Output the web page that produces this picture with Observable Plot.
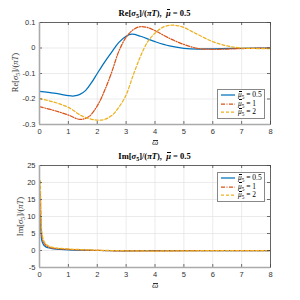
<!DOCTYPE html>
<html><head><meta charset="utf-8">
<script src="https://cdn.jsdelivr.net/npm/d3@7"></script>
<script src="https://cdn.jsdelivr.net/npm/@observablehq/plot@0.6"></script>
<style>
body{margin:0;background:#fff}
#c{position:relative;width:300px;height:300px;overflow:hidden;font-family:"Liberation Serif",serif}
.ttl{position:absolute;width:231px;left:39px;text-align:center;font-weight:bold;font-size:8.5px;color:#000;white-space:nowrap}
.yl{position:absolute;transform:rotate(-90deg);transform-origin:center;font-size:8.5px;color:#333;white-space:nowrap;width:80px;text-align:center}
.xl{position:absolute;left:152px;font-size:9px;color:#333}
.leg{position:absolute;left:217px;width:46px;height:28px;border:1px solid #888;background:#fff;font-size:7.5px}
.row{position:absolute;left:2px;height:8px;display:flex;align-items:center}
.row svg{display:block}
.row span{margin-left:1px;white-space:nowrap}
sub{font-size:70%;vertical-align:-2px}
.bar{position:relative;display:inline-block;font-style:italic}
.bar::before{content:"";position:absolute;left:20%;right:5%;top:0.12em;border-top:0.7px solid currentColor}
.xl .bar::before{top:0.28em}
</style>
</head><body>
<div id="c"></div>
<script>
// ---------- data ----------
const reOmegaBlue = [0, 0.5, 0.75, 1, 1.2, 1.4, 1.6, 1.8, 2, 2.25, 2.5, 2.75, 3, 3.2, 3.5, 4, 4.5, 5, 5.5, 6, 7, 8];
const reBlue      = [-0.170, -0.177, -0.182, -0.187, -0.188, -0.182, -0.166, -0.136, -0.100, -0.056, -0.016, 0.022, 0.046, 0.054, 0.046, 0.025, 0.008, -0.001, -0.004, -0.003, -0.001, 0];
const reOmegaOrange = [0, 0.5, 1, 1.4, 1.7, 2, 2.25, 2.5, 2.75, 3, 3.25, 3.5, 3.75, 4, 4.5, 5, 5.5, 6, 6.5, 7, 8];
const reOrange      = [-0.230, -0.245, -0.263, -0.280, -0.270, -0.227, -0.168, -0.095, -0.012, 0.042, 0.072, 0.084, 0.080, 0.068, 0.038, 0.014, -0.002, -0.005, -0.004, -0.002, 0];
const reOmegaYellow = [0, 0.5, 1, 1.5, 2, 2.25, 2.5, 2.75, 3, 3.25, 3.5, 3.75, 4, 4.25, 4.5, 4.75, 5, 5.25, 5.5, 6, 6.5, 7, 7.5, 8];
const reYellow      = [-0.198, -0.212, -0.233, -0.268, -0.283, -0.280, -0.265, -0.232, -0.184, -0.105, -0.032, 0.025, 0.058, 0.080, 0.089, 0.088, 0.081, 0.066, 0.052, 0.025, 0.008, 0.0, -0.002, -0.002];

const imOmega  = [0.03, 0.05, 0.075, 0.1, 0.15, 0.2, 0.3, 0.5, 0.75, 1, 1.5, 2, 3, 4, 5, 6, 7, 8];
const imBlue   = [10.5, 5.5, 3.2, 2.4, 1.6, 1.2, 0.8, 0.45, 0.3, 0.2, 0.08, 0.0, -0.08, -0.06, -0.03, -0.01, 0, 0];
const imOrange = [16.5, 8.5, 4.8, 3.5, 2.3, 1.7, 1.1, 0.65, 0.45, 0.32, 0.15, 0.03, -0.12, -0.12, -0.06, -0.02, -0.01, 0];
const imYellow = [20.5, 10.5, 6.0, 4.3, 2.8, 2.1, 1.4, 0.85, 0.6, 0.45, 0.25, 0.1, -0.08, -0.15, -0.1, -0.04, -0.02, 0];

const seriesNames = ["0.5", "1", "2"];
const colors = ["#0072BD", "#D95319", "#EDB120"];
const dashes = [null, "4,1.5,1,1.5", "3,2"];

const xTicks = [0, 1, 2, 3, 4, 5, 6, 7, 8];
const reTicks = [-0.3, -0.2, -0.1, 0, 0.1];
const reTickLabels = ["-0.3", "-0.2", "-0.1", "0", "0.1"];
const imTicks = [-5, 0, 5, 10, 15, 20, 25];
const imTickLabels = ["-5", "0", "5", "10", "15", "20", "25"];

// ---------- build ----------
function rows(xs, ys, s) { return xs.map((x, i) => ({x, y: ys[i], s})); }

function chart({series, yDomain, yTicks, yLabels, mt, mb, curve}) {
  const H = 150, innerH = H - mt - mb;
  const marks = [
    Plot.gridX(xTicks, {stroke: "#e3e3e3", strokeOpacity: 1, strokeWidth: 0.7}),
    Plot.gridY(yTicks, {stroke: "#e3e3e3", strokeOpacity: 1, strokeWidth: 0.7}),
  ];
  series.forEach((d, i) => {
    marks.push(Plot.line(d, {x: "x", y: "y", stroke: colors[i], strokeWidth: 1.25,
      strokeDasharray: dashes[i], curve, clip: true}));
  });
  marks.push(
    Plot.tickX(xTicks, {x: d => d, insetTop: innerH - 3, stroke: "#333", strokeWidth: 0.7}),
    Plot.tickX(xTicks, {x: d => d, insetBottom: innerH - 3, stroke: "#333", strokeWidth: 0.7}),
    Plot.tickY(yTicks, {y: d => d, insetRight: 231 - 3, stroke: "#333", strokeWidth: 0.7}),
    Plot.tickY(yTicks, {y: d => d, insetLeft: 231 - 3, stroke: "#333", strokeWidth: 0.7}),
    Plot.frame({stroke: "#444", strokeWidth: 0.8}),
    Plot.axisX(xTicks, {tickSize: 0, tickPadding: 4, tickFormat: d => String(d), fill: "#333", label: null}),
    Plot.axisY(yTicks, {tickSize: 0, tickPadding: 4, tickFormat: d => yLabels[yTicks.indexOf(d)], fill: "#333", label: null}),
    Plot.ruleX([0], {stroke: "#aaa", strokeWidth: 1.6}),
    Plot.ruleY([yDomain[0]], {stroke: "#aaa", strokeWidth: 1.6})
  );
  return Plot.plot({
    width: 300, height: H,
    marginLeft: 39, marginRight: 30, marginTop: mt, marginBottom: mb,
    x: {domain: [0, 8]},
    y: {domain: yDomain},
    style: {fontFamily: "'Liberation Sans', Arial, sans-serif", fontSize: "7.5px", background: "transparent"},
    marks
  });
}

const host = document.getElementById("c");

const topChart = chart({
  series: [rows(reOmegaBlue, reBlue), rows(reOmegaOrange, reOrange), rows(reOmegaYellow, reYellow)],
  yDomain: [-0.3, 0.1], yTicks: reTicks, yLabels: reTickLabels, mt: 22, mb: 26, curve: "catmull-rom"
});
topChart.style.position = "absolute"; topChart.style.left = "0px"; topChart.style.top = "0px";
host.appendChild(topChart);

const botChart = chart({
  series: [rows(imOmega, imBlue), rows(imOmega, imOrange), rows(imOmega, imYellow)],
  yDomain: [-5, 25], yTicks: imTicks, yLabels: imTickLabels, mt: 15, mb: 33, curve: "monotone-x"
});
botChart.style.position = "absolute"; botChart.style.left = "0px"; botChart.style.top = "150px";
host.appendChild(botChart);

function add(html) { const t = document.createElement("div"); t.innerHTML = html; const n = t.firstElementChild; host.appendChild(n); return n; }

const MU = `<span class="bar">μ</span>`;
const OM = `<span class="bar">ω</span>`;
add(`<div class="ttl" style="top:8px">Re[<i>σ</i><sub>5</sub>]/(<i>πT</i>), &nbsp;${MU} = 0.5</div>`);
add(`<div class="ttl" style="top:151px">Im[<i>σ</i><sub>5</sub>]/(<i>πT</i>), &nbsp;${MU} = 0.5</div>`);
add(`<div class="yl" style="left:-25px;top:67px">Re[<i>σ</i><sub>5</sub>]/(<i>πT</i>)</div>`);
add(`<div class="yl" style="left:-20px;top:211px">Im[<i>σ</i><sub>5</sub>]/(<i>πT</i>)</div>`);
add(`<div class="xl" style="top:137px">${OM}</div>`);
add(`<div class="xl" style="top:280px">${OM}</div>`);

function legend(y0) {
  const box = add(`<div class="leg" style="top:${y0}px"></div>`);
  seriesNames.forEach((n, i) => {
    const r = document.createElement("div");
    r.className = "row";
    r.style.top = (1 + i * 8.5) + "px";
    r.innerHTML = `<svg width="16" height="6"><line x1="1" y1="3" x2="15" y2="3" stroke="${colors[i]}" stroke-width="1.25" ${dashes[i] ? `stroke-dasharray="${dashes[i]}"` : ""}/></svg><span>${MU}<sub>5</sub> = ${n}</span>`;
    box.appendChild(r);
  });
}
legend(89);
legend(172);
</script>
</body></html>
